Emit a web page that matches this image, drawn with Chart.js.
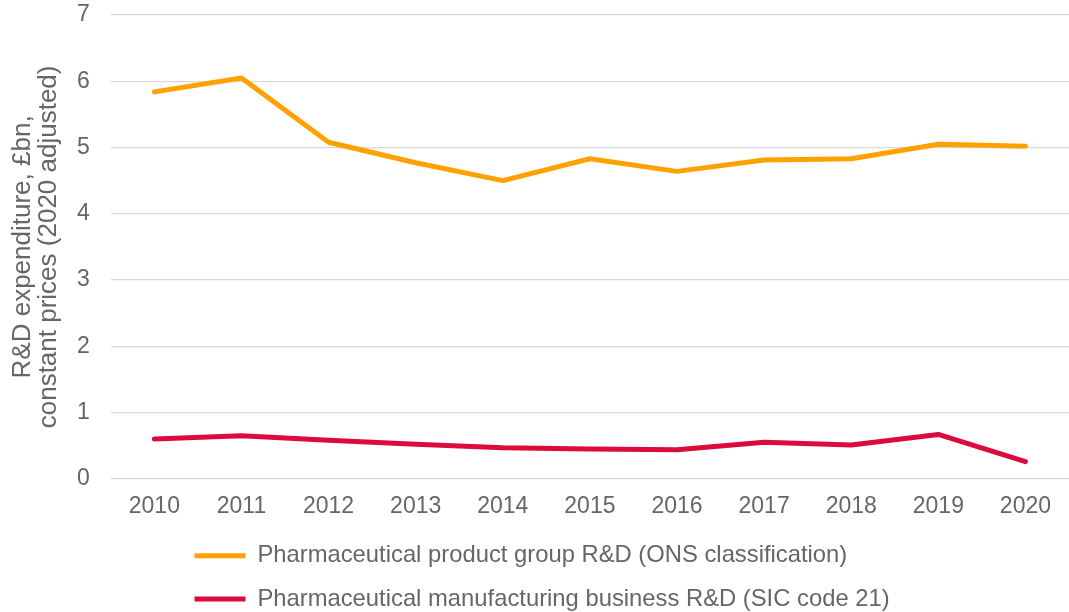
<!DOCTYPE html>
<html>
<head>
<meta charset="utf-8">
<script src="https://cdn.jsdelivr.net/npm/chart.js@4/dist/chart.umd.min.js"></script>
<style>
  html, body { margin: 0; padding: 0; background: #fff; overflow: hidden; }
  #wrap { width: 1069px; height: 612px; }
</style>
</head>
<body>
<div id="wrap"><canvas id="myChart"></canvas></div>
<script>
let years = ['2010', '2011', '2012', '2013', '2014', '2015', '2016', '2017', '2018', '2019', '2020']

let productGroup = [5.84, 6.05, 5.08, 4.77, 4.50, 4.83, 4.64, 4.81, 4.83, 5.05, 5.02]
let manufacturing = [0.60, 0.65, 0.58, 0.52, 0.47, 0.45, 0.44, 0.55, 0.51, 0.67, 0.26]

let seriesNames = [
    'Pharmaceutical product group R&D (ONS classification)',
    'Pharmaceutical manufacturing business R&D (SIC code 21)'
]

let yTitle = ['R&D expenditure, £bn,', 'constant prices (2020 adjusted)']

let textColor = '#666666'
let fontFamily = '"Liberation Sans", Arial, sans-serif'

// move the legend rows so both start at the same x
let legendShift = {
    id: 'legendShift',
    afterLayout(chart) {
        chart.legend.left = 175
    }
}

let ctx = document.getElementById('myChart')
let myChart = new Chart(ctx, {
    type: 'line',
    data: {
        labels: years,
        datasets: [
            {
                label: seriesNames[0],
                data: productGroup,
                borderColor: '#FFA200',
                backgroundColor: '#FFA200',
                borderWidth: 5,
                borderCapStyle: 'round',
                borderJoinStyle: 'round',
                pointRadius: 0,
                tension: 0
            },
            {
                label: seriesNames[1],
                data: manufacturing,
                borderColor: '#DC0B3C',
                backgroundColor: '#DC0B3C',
                borderWidth: 5,
                borderCapStyle: 'round',
                borderJoinStyle: 'round',
                pointRadius: 0,
                tension: 0
            }
        ]
    },
    options: {
        responsive: true,
        maintainAspectRatio: false,
        animation: false,
        layout: {
            padding: { top: 15, right: 0, bottom: -9, left: 0 }
        },
        plugins: {
            tooltip: { enabled: false },
            legend: {
                position: 'bottom',
                align: 'start',
                labels: {
                    usePointStyle: true,
                    pointStyle: 'line',
                    pointStyleWidth: 51,
                    padding: 19.5,
                    color: textColor,
                    font: { family: fontFamily, size: 23.8 }
                }
            }
        },
        scales: {
            x: {
                offset: true,
                grid: { display: false, drawTicks: false },
                border: { display: false },
                ticks: {
                    color: textColor,
                    padding: 14,
                    font: { family: fontFamily, size: 23 }
                },
                afterFit(scale) {
                    scale.height -= 10
                }
            },
            y: {
                min: 0,
                max: 7,
                grid: { color: '#d9d9d9', lineWidth: 1.3, drawTicks: false },
                border: { display: false },
                ticks: {
                    stepSize: 1,
                    color: textColor,
                    padding: 21,
                    font: { family: fontFamily, size: 23 }
                },
                title: {
                    display: true,
                    text: yTitle,
                    color: textColor,
                    padding: { top: 10, bottom: 15 },
                    font: { family: fontFamily, size: 26, lineHeight: 1 }
                },
                afterFit(scale) {
                    scale.width -= 21
                    scale.paddingTop = 0
                    scale.paddingBottom = 0
                }
            }
        }
    },
    plugins: [legendShift]
})
</script>
</body>
</html>
